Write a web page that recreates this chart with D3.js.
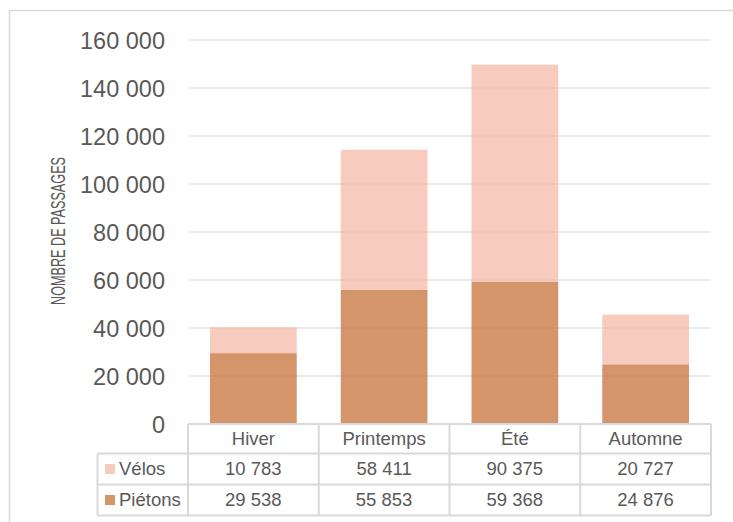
<!DOCTYPE html>
<html>
<head>
<meta charset="utf-8">
<script src="https://cdn.jsdelivr.net/npm/d3@7"></script>
<style>
  html, body { margin: 0; padding: 0; background: #fff; }
  svg { display: block; }
</style>
</head>
<body>
<svg id="chart" width="733" height="522"></svg>
<script>
const categories = ["Hiver", "Printemps", "Été", "Automne"];
const seriesNames = ["Vélos", "Piétons"];
const velos = [10783, 58411, 90375, 20727];
const pietons = [29538, 55853, 59368, 24876];
const yTicks = [0, 20000, 40000, 60000, 80000, 100000, 120000, 140000, 160000];
const yTitle = "NOMBRE DE PASSAGES";

const colors = { "Vélos": "#F7CBBE", "Piétons": "#D4956A" };

const svg = d3.select("#chart");
const fmt = v => d3.format(",")(v).replace(/,/g, " ");

const pLeft = 188, pRight = 711, pTop = 40, pBottom = 424;
const x = d3.scaleBand().domain(categories).range([pLeft, pRight]).paddingInner(0.337).paddingOuter(0.1685);
const xCol = d3.scaleBand().domain(categories).range([pLeft, pRight]);
const y = d3.scaleLinear().domain([0, 160000]).range([pBottom, pTop]);

// outer border
svg.append("rect").attr("x", 9.5).attr("y", 10.5).attr("width", 760).attr("height", 560)
  .attr("fill", "none").attr("stroke", "#D9D9D9").attr("stroke-width", 1.5);

// gridlines
svg.append("g").selectAll("line").data(yTicks.filter(d => d > 0)).join("line")
  .attr("x1", pLeft).attr("x2", pRight)
  .attr("y1", d => y(d)).attr("y2", d => y(d))
  .attr("stroke", "#EBEBEB").attr("stroke-width", 1.5);

// stacked bars
const rows = categories.map((c, i) => ({ cat: c, "Piétons": pietons[i], "Vélos": velos[i] }));
const stack = d3.stack().keys(["Piétons", "Vélos"])(rows);
svg.append("g").selectAll("g").data(stack).join("g")
  .attr("fill", d => colors[d.key])
  .selectAll("rect").data(d => d).join("rect")
  .attr("x", d => x(d.data.cat))
  .attr("width", x.bandwidth())
  .attr("y", d => y(d[1]))
  .attr("height", d => y(d[0]) - y(d[1]));

// gridlines faintly through bars
svg.append("g").selectAll("line").data(yTicks.filter(d => d > 0)).join("line")
  .attr("x1", pLeft).attr("x2", pRight)
  .attr("y1", d => y(d)).attr("y2", d => y(d))
  .attr("stroke", "#000").attr("stroke-opacity", 0.035).attr("stroke-width", 1.5);

// y axis labels
const yAxis = d3.axisLeft(y).tickValues(yTicks).tickFormat(fmt).tickSize(0).tickPadding(0);
const ga = svg.append("g").attr("transform", "translate(165,0)").call(yAxis);
ga.select(".domain").remove();
ga.selectAll("text").attr("font-family", "Liberation Sans, Arial, sans-serif")
  .attr("font-size", 23.5).attr("fill", "#595959").attr("dy", "0.35em");

// y title
svg.append("text")
  .attr("transform", "translate(65,231) rotate(-90)")
  .attr("text-anchor", "middle")
  .attr("font-family", "Liberation Sans Narrow, Liberation Sans, sans-serif")
  .attr("font-size", 21).attr("fill", "#595959")
  .attr("textLength", 148).attr("lengthAdjust", "spacingAndGlyphs")
  .text(yTitle);

// data table
const tableColor = "#D9D9D9";
const rowY = [424, 453.5, 484.5, 515.5];
const tg = svg.append("g").attr("stroke", tableColor).attr("stroke-width", 2).attr("fill", "none");
tg.append("line").attr("x1", pLeft).attr("x2", pRight).attr("y1", rowY[0]).attr("y2", rowY[0]);
[1, 2, 3].forEach(r => {
  tg.append("line").attr("x1", 97.5).attr("x2", pRight).attr("y1", rowY[r]).attr("y2", rowY[r]);
});
tg.append("line").attr("x1", 97.5).attr("x2", 97.5).attr("y1", rowY[1]).attr("y2", rowY[3]);
categories.forEach(c => {
  tg.append("line").attr("x1", xCol(c)).attr("x2", xCol(c)).attr("y1", rowY[0]).attr("y2", rowY[3]);
});
tg.append("line").attr("x1", pRight).attr("x2", pRight).attr("y1", rowY[0]).attr("y2", rowY[3]);

const txt = svg.append("g").attr("font-family", "Liberation Sans, Arial, sans-serif")
  .attr("font-size", 18.5).attr("fill", "#595959").attr("text-anchor", "middle");
txt.selectAll("text.cat").data(categories).join("text").attr("class", "cat")
  .attr("x", d => xCol(d) + xCol.bandwidth() / 2).attr("y", (rowY[0] + rowY[1]) / 2).attr("dy", "0.35em")
  .text(d => d);
const series = [velos, pietons];
series.forEach((vals, r) => {
  txt.selectAll("text.v" + r).data(vals).join("text").attr("class", "v" + r)
    .attr("x", (d, i) => xCol(categories[i]) + xCol.bandwidth() / 2)
    .attr("y", (rowY[r + 1] + rowY[r + 2]) / 2).attr("dy", "0.35em")
    .text(d => fmt(d));
  const ly = (rowY[r + 1] + rowY[r + 2]) / 2;
  svg.append("rect").attr("x", 105).attr("y", ly - 5).attr("width", 10).attr("height", 10)
    .attr("fill", colors[seriesNames[r]]);
  svg.append("text").attr("x", 119).attr("y", ly).attr("dy", "0.35em")
    .attr("font-family", "Liberation Sans, Arial, sans-serif").attr("font-size", 18.5)
    .attr("fill", "#595959").text(seriesNames[r]);
});
</script>
</body>
</html>
